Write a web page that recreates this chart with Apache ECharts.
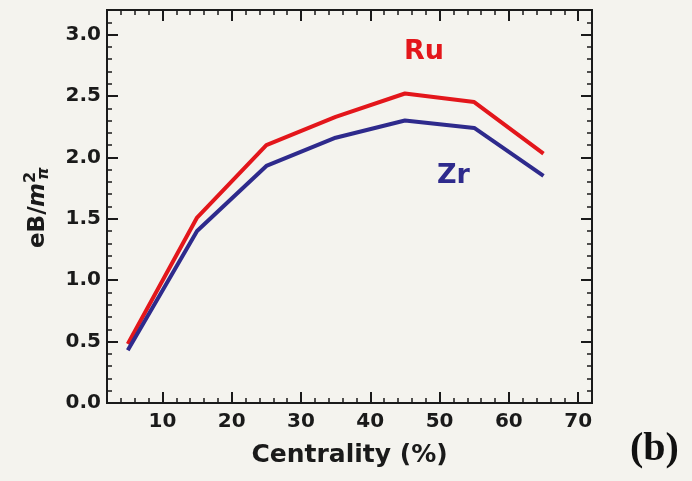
<!DOCTYPE html>
<html>
<head>
<meta charset="utf-8">
<script src="https://cdn.jsdelivr.net/npm/echarts@6/dist/echarts.min.js"></script>
<style>
html,body{margin:0;padding:0;background:#f4f3ee;}
#c{width:692px;height:481px;}
</style>
</head>
<body>
<div id="c"></div>
<script>
const centrality = [5, 15, 25, 35, 45, 55, 65];
const ruValues = [0.48, 1.51, 2.10, 2.33, 2.52, 2.45, 2.03];
const zrValues = [0.43, 1.40, 1.93, 2.16, 2.30, 2.24, 1.85];
const xTickLabels = [10, 20, 30, 40, 50, 60, 70];
const yTickLabels = [0, 0.5, 1.0, 1.5, 2.0, 2.5, 3.0];

const ruColor = '#e3161b';
const zrColor = '#2e2a8c';
const ink = '#1a1a1a';
const FONT = '"DejaVu Sans", Verdana, sans-serif';

const chart = echarts.init(document.getElementById('c'));

function xAx(pos, major, labels) {
  return {
    type: 'value', position: pos, min: 2, max: 72,
    interval: 2,
    axisLine: { show: true, onZero: false, lineStyle: { color: ink, width: 2 } },
    axisTick: major
      ? { show: true, inside: true, length: 11, customValues: xTickLabels, lineStyle: { color: ink, width: 2 } }
      : { show: true, inside: true, length: 5, lineStyle: { color: ink, width: 1.5 } },
    axisLabel: labels
      ? { show: true, customValues: xTickLabels, margin: 9, color: ink, fontSize: 20, fontWeight: 'bold', fontFamily: FONT }
      : { show: false },
    splitLine: { show: false },
    name: labels ? 'Centrality (%)' : '',
    nameLocation: 'middle', nameGap: 40,
    nameTextStyle: { color: ink, fontSize: 25, fontWeight: 'bold', fontFamily: FONT }
  };
}
function yAx(pos, major, labels) {
  return {
    type: 'value', position: pos, min: 0, max: 3.2,
    interval: 0.1,
    axisLine: { show: true, onZero: false, lineStyle: { color: ink, width: 2 } },
    axisTick: major
      ? { show: true, inside: true, length: 11, customValues: yTickLabels, lineStyle: { color: ink, width: 2 } }
      : { show: true, inside: true, length: 5, lineStyle: { color: ink, width: 1.5 } },
    axisLabel: labels
      ? { show: true, customValues: yTickLabels, margin: 6, color: ink, fontSize: 20, fontWeight: 'bold', fontFamily: FONT,
          formatter: v => Number(v).toFixed(1) }
      : { show: false },
    splitLine: { show: false }
  };
}

chart.setOption({
  backgroundColor: '#f4f3ee',
  animation: false,
  grid: { left: 107, top: 10, right: 100, bottom: 78, containLabel: false },
  xAxis: [xAx('bottom', false, true), xAx('bottom', true, false), xAx('top', false, false), xAx('top', true, false)],
  yAxis: [yAx('left', false, true), yAx('left', true, false), yAx('right', false, false), yAx('right', true, false)],
  series: [
    { name: 'Ru', type: 'line', xAxisIndex: 0, yAxisIndex: 0, symbol: 'none',
      lineStyle: { color: ruColor, width: 4 },
      data: centrality.map((c, i) => [c, ruValues[i]]) },
    { name: 'Zr', type: 'line', xAxisIndex: 0, yAxisIndex: 0, symbol: 'none',
      lineStyle: { color: zrColor, width: 4 },
      data: centrality.map((c, i) => [c, zrValues[i]]) }
  ],
  graphic: [
    { type: 'text', left: 404, top: 38, style: { text: 'Ru', fill: ruColor, font: 'bold 27px ' + FONT } },
    { type: 'text', left: 437, top: 162, style: { text: 'Zr', fill: zrColor, font: 'bold 27px ' + FONT } },
    { type: 'text', left: 630, top: 430, style: { text: '(b)', fill: '#111', font: 'bold 40px "Liberation Serif", "Times New Roman", serif' } },
    { type: 'group', x: 47, y: 248, rotation: Math.PI / 2, children: [
      { type: 'text', x: 0, y: -9, style: { text: 'eB/', fill: ink, align: 'left', verticalAlign: 'middle', font: 'bold 23px ' + FONT } },
      { type: 'text', x: 41, y: -9, style: { text: 'm', fill: ink, align: 'left', verticalAlign: 'middle', font: 'italic bold 23px ' + FONT } },
      { type: 'text', x: 65, y: -16, style: { text: '2', fill: ink, align: 'left', verticalAlign: 'middle', font: 'bold 16px ' + FONT } },
      { type: 'text', x: 68, y: -3, style: { text: 'π', fill: ink, align: 'left', verticalAlign: 'middle', font: 'italic bold 16px ' + FONT } }
    ]}
  ]
});
</script>
</body>
</html>
